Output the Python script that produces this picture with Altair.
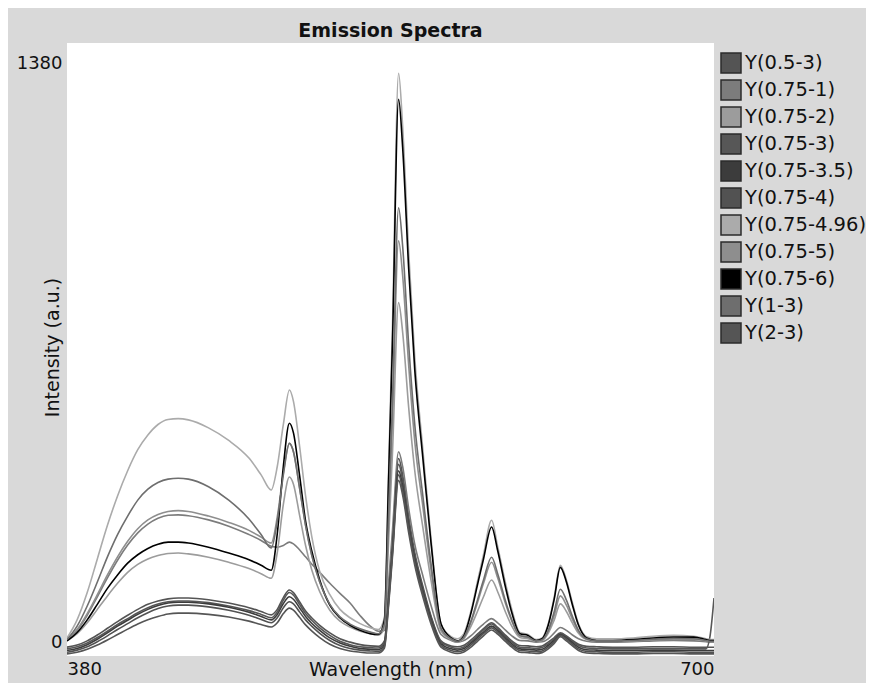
import altair as alt
import pandas as pd

wavelength = [380, 385, 390, 395, 400, 405, 410, 415, 420, 425, 430, 435, 440, 450, 460, 470, 476, 481,
              484, 487, 490, 492, 495, 498, 501, 505, 510, 515, 520, 525, 530, 534,
              537, 539, 541, 544, 546, 549, 552, 556, 560, 565, 570,
              573, 576, 580, 583, 586, 590, 593, 597, 600, 604, 608, 612,
              615, 618, 621, 624, 627, 630, 633, 637, 642,
              650, 660, 670, 680, 690, 696, 698, 700]

series_names = ["Y(0.5-3)", "Y(0.75-1)", "Y(0.75-2)", "Y(0.75-3)", "Y(0.75-3.5)", "Y(0.75-4)",
                "Y(0.75-4.96)", "Y(0.75-5)", "Y(0.75-6)", "Y(1-3)", "Y(2-3)"]
series_colors = ["#545454", "#7c7c7c", "#9c9c9c", "#575757", "#3c3c3c", "#525252",
                 "#ababab", "#8e8e8e", "#000000", "#6e6e6e", "#555555"]

y_05_3 = [-10, -5, 5, 19, 35, 51, 66, 80, 92, 100, 105, 107, 107, 103, 95, 84, 75, 67,
          80, 108, 126, 120, 98, 76, 60, 42, 24, 10, 2, -4, -7, -8,
          5, 110, 240, 439, 400, 300, 215, 135, 65, 5, -7,
          -9, -6, 8, 21, 34, 48, 37, 18, 5, -6, -7, -9,
          -7, 2, 13, 24, 17, 6, -3, -8, -9,
          -10, -10, -9, -9, -10, -10, -10, -10]
y_075_1 = [6, 30, 66, 110, 155, 197, 233, 262, 283, 297, 304, 305, 303, 293, 278, 258, 244, 230,
           228, 232, 240, 236, 222, 205, 188, 168, 142, 118, 95, 65, 40, 28,
           30, 140, 270, 455, 420, 320, 235, 160, 90, 20, 6,
           2, 5, 18, 32, 45, 58, 48, 30, 17, 6, 5, 2,
           3, 10, 24, 37, 30, 19, 10, 4, 2,
           2, 3, 5, 6, 5, 3, 2, 2]
y_075_2 = [5, 22, 48, 80, 112, 142, 168, 187, 200, 208, 213, 214, 212, 204, 192, 177, 165, 154,
           215, 330, 395, 378, 305, 232, 175, 122, 78, 52, 38, 28, 22, 19,
           36, 235, 455, 810, 740, 560, 410, 275, 150, 28, 8,
           3, 9, 42, 75, 110, 150, 122, 72, 40, 13, 10, 4,
           6, 23, 55, 93, 75, 47, 23, 8, 4,
           4, 5, 8, 9, 9, 5, 3, 3]
y_075_3 = [-14, -9, 0, 13, 28, 44, 58, 72, 84, 93, 98, 100, 100, 96, 88, 77, 68, 60,
           74, 102, 120, 114, 92, 70, 54, 36, 18, 4, -4, -9, -11, -12,
           2, 105, 232, 425, 388, 290, 208, 130, 62, 2, -10,
           -13, -10, 4, 17, 31, 45, 34, 15, 2, -10, -11, -13,
           -11, -2, 10, 22, 15, 3, -6, -12, -13,
           -14, -14, -13, -13, -14, -14, 15, 107]
y_075_35 = [-18, -13, -4, 9, 24, 40, 54, 68, 80, 89, 95, 97, 97, 93, 85, 73, 63, 55,
            68, 94, 110, 104, 84, 63, 47, 30, 12, 0, -8, -13, -15, -16,
            -4, 98, 222, 410, 374, 280, 200, 124, 57, -2, -14,
            -17, -14, 0, 13, 26, 40, 30, 11, -2, -14, -15, -17,
            -15, -6, 6, 20, 12, 0, -10, -16, -17,
            -18, -18, -17, -17, -18, -18, -18, -18]
y_075_4 = [-22, -17, -9, 3, 17, 32, 46, 60, 72, 82, 88, 90, 90, 86, 78, 66, 56, 48,
           60, 84, 98, 93, 74, 55, 40, 23, 6, -6, -13, -17, -19, -20,
           -8, 92, 215, 400, 364, 272, 193, 118, 52, -6, -18,
           -21, -18, -4, 9, 22, 36, 26, 7, -6, -18, -19, -21,
           -19, -10, 3, 18, 9, -3, -14, -20, -21,
           -22, -22, -21, -21, -22, -22, -22, -22]
y_075_496 = [12, 55, 120, 200, 280, 350, 410, 460, 495, 520, 532, 534, 531, 512, 482, 440, 400, 364,
             420, 520, 602, 575, 470, 350, 255, 170, 115, 80, 60, 46, 36, 32,
             60, 400, 760, 1356, 1230, 930, 680, 460, 250, 45, 15,
             10, 20, 80, 146, 210, 292, 230, 140, 80, 25, 20, 8,
             12, 45, 110, 185, 150, 95, 45, 15, 10,
             10, 12, 16, 18, 16, 10, 8, 8]
y_075_5 = [6, 32, 70, 115, 162, 205, 242, 272, 293, 306, 313, 315, 313, 302, 287, 268, 252, 238,
           300, 405, 475, 455, 370, 280, 210, 145, 90, 60, 43, 32, 25, 21,
           42, 280, 540, 957, 875, 660, 480, 325, 175, 33, 9,
           4, 11, 52, 96, 142, 192, 155, 92, 52, 17, 13, 5,
           7, 27, 66, 112, 90, 56, 27, 9, 5,
           5, 6, 9, 10, 10, 6, 4, 4]
y_075_6 = [5, 25, 55, 92, 130, 162, 190, 210, 225, 235, 240, 240, 238, 228, 214, 198, 185, 173,
           260, 420, 523, 500, 400, 290, 220, 150, 90, 60, 42, 30, 22, 20,
           55, 380, 720, 1294, 1180, 890, 650, 440, 240, 45, 12,
           5, 15, 75, 138, 200, 276, 220, 130, 72, 22, 18, 6,
           10, 42, 105, 180, 145, 90, 42, 12, 6,
           6, 8, 12, 14, 14, 8, 6, 6]
y_1_3 = [8, 40, 88, 145, 205, 258, 302, 340, 366, 382, 390, 392, 390, 372, 340, 295, 258, 226,
         290, 400, 475, 455, 370, 280, 210, 145, 92, 62, 45, 34, 26, 22,
         45, 300, 580, 1036, 945, 710, 520, 350, 190, 35, 10,
         4, 12, 55, 102, 150, 204, 165, 98, 55, 18, 14, 5,
         8, 30, 75, 128, 102, 63, 30, 10, 5,
         5, 6, 9, 11, 10, 6, 4, 4]
y_2_3 = [-26, -22, -15, -5, 7, 20, 33, 45, 55, 63, 69, 71, 71, 68, 62, 52, 44, 38,
         48, 70, 83, 78, 61, 43, 29, 13, -3, -13, -19, -22, -24, -24,
         -12, 86, 207, 387, 352, 262, 185, 110, 46, -10, -22,
         -25, -22, -9, 4, 17, 31, 21, 3, -10, -22, -23, -25,
         -23, -14, -1, 15, 5, -7, -18, -24, -25,
         -26, -26, -25, -25, -26, -26, -26, -26]

series_values = [y_05_3, y_075_1, y_075_2, y_075_3, y_075_35, y_075_4,
                 y_075_496, y_075_5, y_075_6, y_1_3, y_2_3]

rows = []
for name, vals in zip(series_names, series_values):
    for w, v in zip(wavelength, vals):
        rows.append({"Wavelength": w, "Intensity": v, "Series": name, "Sample": name})
df = pd.DataFrame(rows)

FONT = "DejaVu Sans"

x_enc = alt.X("Wavelength:Q",
              scale=alt.Scale(domain=[380, 700], nice=False, zero=False),
              axis=alt.Axis(values=[380, 700], title="Wavelength (nm)", labelFlush=True,
                            ticks=False, domain=False, grid=False, labelPadding=4,
                            labelFont=FONT, labelFontSize=18, labelColor="#111",
                            titleFont=FONT, titleFontSize=19, titleFontWeight="normal",
                            titleColor="#111", titleY=4, titleBaseline="top"))
y_enc = alt.Y("Intensity:Q",
              scale=alt.Scale(domain=[-31, 1428], nice=False, zero=False),
              axis=alt.Axis(values=[0, 1380], format="d", title="Intensity (a.u.)",
                            ticks=False, domain=False, grid=False, labelPadding=5,
                            labelFont=FONT, labelFontSize=18, labelColor="#111",
                            titleFont=FONT, titleFontSize=19, titleFontWeight="normal",
                            titleColor="#111", titleX=-15, titleY=304,
                            titleBaseline="middle", titleAlign="center", titleAngle=-90))

lines = alt.Chart(df).mark_line(strokeWidth=1.6, clip=True, interpolate="monotone").encode(
    x=x_enc, y=y_enc,
    stroke=alt.Stroke("Series:N", sort=series_names,
                      scale=alt.Scale(domain=series_names, range=series_colors),
                      legend=None),
)

legend_marks = alt.Chart(df).mark_square(size=0, filled=True, opacity=1).encode(
    x=alt.X("Wavelength:Q"), y=alt.Y("Intensity:Q"),
    fill=alt.Fill("Sample:N", sort=series_names,
                  scale=alt.Scale(domain=series_names, range=series_colors),
                  legend=alt.Legend(
                      title=None, orient="none", legendX=653, legendY=9,
                      symbolType="square", symbolSize=400, symbolStrokeWidth=1.5,
                      symbolStrokeColor="#2b2b2b", symbolOpacity=1,
                      labelFont=FONT, labelFontSize=19.5, labelColor="#111",
                      labelOffset=3, rowPadding=1, padding=0, labelLimit=200)),
)

chart = alt.layer(lines, legend_marks).resolve_scale(fill="independent").properties(
    width=647, height=613,
    title=alt.TitleParams("Emission Spectra", font=FONT, fontSize=19, fontWeight="bold",
                          anchor="middle", offset=2, color="#111"),
    autosize=alt.AutoSizeParams(type="none"),
    padding={"left": 59, "top": 35, "right": 152, "bottom": 27},
    background="#d9d9d9",
).configure_view(fill="white", strokeWidth=0)

chart.save("out.html", embed_options={"renderer": "svg", "actions": False})
